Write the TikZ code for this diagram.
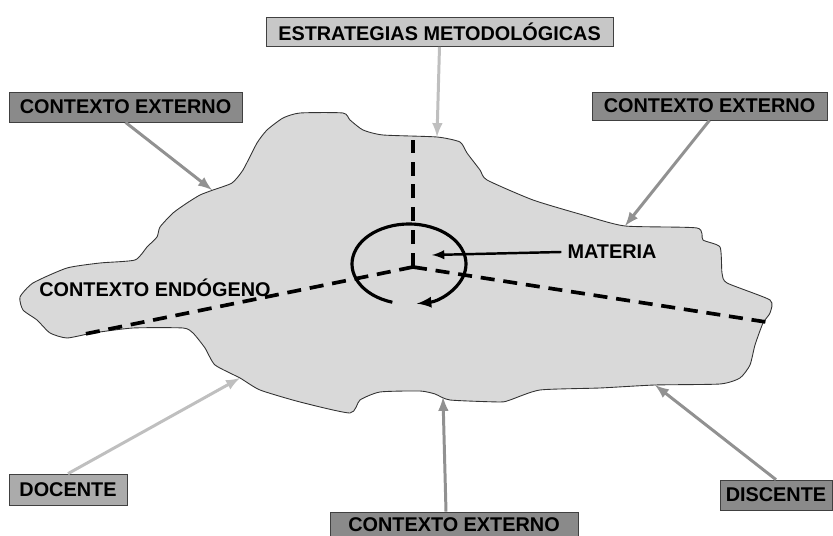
\documentclass[tikz,border=0pt]{standalone}
\usepackage{fontspec}
\setmainfont{Liberation Sans}
\usetikzlibrary{arrows}
\tikzstyle{every picture}=[->,>=latex]
\tikzstyle{lightbox}=[-,draw=black!75,fill=black!22,inner sep=0pt,font=\fontsize{11.3}{13}\selectfont\bfseries]
\tikzstyle{darkbox}=[lightbox,fill=black!46]
\tikzstyle{midbox}=[lightbox,fill=black!33]
\tikzstyle{lightarrow}=[draw=black!25,line width=1.7pt]
\tikzstyle{darkarrow}=[draw=black!43,line width=1.7pt]
\tikzstyle{axis}=[-,line width=2.1pt,dash pattern=on 8pt off 5pt]

\begin{document}
\begin{tikzpicture}[x=0.02cm,y=-0.02cm]
    \useasboundingbox (0,0) rectangle (833,536);

    % Classroom region
    \draw[-,fill=black!15,draw=black!80,line width=0.5pt] plot[smooth cycle,tension=0.35] coordinates {
        (20,297) (33,283) (67,268) (100,263) (135,260) (147,247) (157,237) (160,227)
        (173,213) (187,203) (200,195) (213,190) (232,183) (243,170) (257,143) (267,130)
        (283,118) (300,113) (343,113) (350,120) (363,130) (383,135) (437,137) (460,142)
        (467,153) (480,170) (487,180) (533,200) (583,215) (625,226) (697,228) (703,240)
        (720,247) (722,273) (727,283) (770,300) (770,313) (763,323) (755,345) (750,365)
        (740,378) (720,384) (655,385) (600,388) (540,390) (510,400) (500,402) (450,400)
        (435,394) (420,391) (380,392) (360,400) (350,413) (300,402) (260,390) (240,378)
        (215,365) (205,348) (193,333) (183,328) (133,328) (93,333) (67,338) (50,333)
        (37,320) (23,310)};

    % Contact points on the border
    \coordinate (pE) at (437,137);
    \coordinate (pA) at (212,190);
    \coordinate (pB) at (625,226);
    \coordinate (pD) at (240,378);
    \coordinate (pC) at (443,397);
    \coordinate (pS) at (655,385);

    % Dashed axes
    \coordinate (c) at (413,267);
    \coordinate (eN) at (413,140);
    \coordinate (eW) at (80,335);
    \coordinate (eE) at (766,322);
    \draw[axis] (c) -- (eN);
    \draw[axis] (c) -- (eW);
    \draw[axis] (c) -- (eE);

    % Turning circle
    \draw[line width=1.8pt] (409,264) ++(107:57 and 40)
        arc[start angle=107,end angle=442,x radius=57,y radius=40];

    % Subject
    \node (mat) at (612,252) {\fontsize{11.3}{13}\selectfont\bfseries MATERIA};
    \coordinate (mtip) at (432,255);
    \draw[line width=1.4pt] (mat.west) -- (mtip);

    \node (endo) at (155,288) {\fontsize{11.3}{13}\selectfont\bfseries CONTEXTO ENDÓGENO};

    % Boxes
    \node[lightbox,minimum width=6.94cm,minimum height=0.58cm] (estr) at (439.5,32) {ESTRATEGIAS METODOLÓGICAS};
    \node[darkbox,minimum width=4.66cm,minimum height=0.6cm] (extA) at (125.5,107) {CONTEXTO EXTERNO};
    \node[darkbox,minimum width=4.7cm,minimum height=0.56cm] (extB) at (709.5,106) {CONTEXTO EXTERNO};
    \node[midbox,minimum width=2.36cm,minimum height=0.62cm] (doc) at (68,489.5) {DOCENTE};
    \node[darkbox,minimum width=4.96cm,minimum height=0.52cm] (extC) at (454,525) {CONTEXTO EXTERNO};
    \node[darkbox,minimum width=2.24cm,minimum height=0.6cm] (disc) at (776,495) {DISCENTE};

    % Arrows to the border
    \draw[lightarrow] (estr.south) -- (pE);
    \draw[darkarrow] (extA.south) -- (pA);
    \draw[darkarrow] (extB.south) -- (pB);
    \draw[lightarrow] (doc.north) -- (pD);
    \draw[darkarrow] ([xshift=-0.16cm]extC.north) -- (pC);
    \draw[darkarrow] (disc.north) -- (pS);
\end{tikzpicture}
\end{document}
